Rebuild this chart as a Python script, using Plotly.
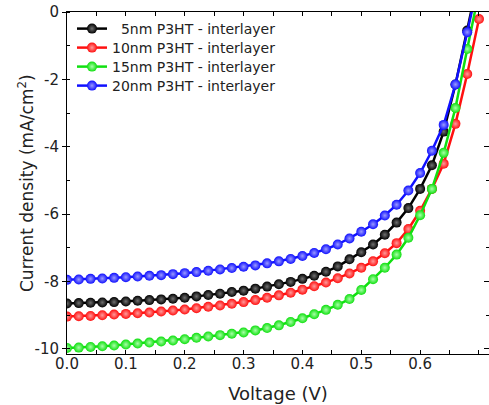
import plotly.graph_objects as go

voltage = [round(0.02 * i, 2) for i in range(36)]

j_5nm = [-8.65, -8.64, -8.63, -8.62, -8.61, -8.59, -8.57, -8.55, -8.53, -8.51,
         -8.48, -8.44, -8.40, -8.36, -8.31, -8.27, -8.21, -8.15, -8.08, -8.01,
         -7.92, -7.83, -7.71, -7.55, -7.34, -7.13, -6.90, -6.61, -6.25, -5.82,
         -5.25, -4.55, -3.55, -2.15, -0.55, 1.10]
j_10nm = [-9.04, -9.03, -9.02, -9.00, -8.98, -8.96, -8.94, -8.92, -8.89, -8.86,
          -8.83, -8.79, -8.75, -8.71, -8.66, -8.61, -8.55, -8.48, -8.41, -8.33,
          -8.24, -8.14, -8.03, -7.90, -7.76, -7.59, -7.40, -7.16, -6.86, -6.44,
          -5.90, -5.25, -4.50, -3.32, -1.84, -0.21]
j_15nm = [-9.97, -9.96, -9.94, -9.92, -9.90, -9.87, -9.84, -9.81, -9.78, -9.75,
          -9.71, -9.67, -9.63, -9.59, -9.55, -9.51, -9.45, -9.38, -9.30, -9.20,
          -9.09, -8.97, -8.84, -8.69, -8.52, -8.25, -7.93, -7.59, -7.20, -6.70,
          -6.03, -5.25, -4.18, -2.85, -1.10, 0.60]
j_20nm = [-7.95, -7.94, -7.92, -7.91, -7.89, -7.87, -7.85, -7.83, -7.81, -7.78,
          -7.75, -7.72, -7.68, -7.64, -7.60, -7.56, -7.52, -7.46, -7.40, -7.33,
          -7.24, -7.15, -7.04, -6.90, -6.72, -6.52, -6.30, -6.04, -5.72, -5.30,
          -4.78, -4.12, -3.35, -2.15, -0.60, 1.00]

series_names = ["\u00a0\u00a05nm P3HT - interlayer", "10nm P3HT - interlayer",
                "15nm P3HT - interlayer", "20nm P3HT - interlayer"]
series_values = [j_5nm, j_10nm, j_15nm, j_20nm]
series_colors = ["#000000", "#ff1010", "#10e010", "#1010ff"]
highlight_colors = ["#707070", "#ff9a9a", "#a8ffa8", "#9a9aff"]

x_ticks = [0.0, 0.1, 0.2, 0.3, 0.4, 0.5, 0.6, 0.7]
y_ticks = [0, -2, -4, -6, -8, -10]

font_family = "DejaVu Sans, Verdana, sans-serif"

x_range = [0, 0.717]
y_range = [-10.15, 0]
fig_w, fig_h = 489, 405
plot_left, plot_top, plot_bottom = 67, 12, 354
plot_w = fig_w - plot_left
plot_h = plot_bottom - plot_top

fig = go.Figure()
legend_ids = ["legend", "legend2", "legend3", "legend4"]
for name, vals, col, hi, lg in zip(series_names, series_values, series_colors,
                                   highlight_colors, legend_ids):
    fig.add_trace(go.Scatter(
        x=voltage, y=vals, name=name, mode="lines+markers", legend=lg,
        line=dict(color=col, width=2.5),
        marker=dict(size=10, color=col, line=dict(width=0),
                    gradient=dict(type="radial", color=hi)),
    ))

# one legend per series so the rows can be stacked tightly
row_offsets = [17, 36, 55, 74]
legend_layout = {}
for lg, off in zip(legend_ids, row_offsets):
    legend_layout[lg] = dict(
        x=5 / plot_w, y=1 - off / plot_h, xanchor="left", yanchor="middle",
        bgcolor="rgba(0,0,0,0)", borderwidth=0, itemwidth=30,
        font=dict(size=14, color="#222222", family=font_family),
    )

tick_style = dict(ticks="inside", ticklen=4, tickcolor="black")

fig.update_layout(
    width=fig_w, height=fig_h,
    margin=dict(l=plot_left, r=0, t=plot_top, b=fig_h - plot_bottom),
    paper_bgcolor="white", plot_bgcolor="white",
    font=dict(family=font_family, size=15, color="#222222"),
    showlegend=True,
    **legend_layout,
    xaxis=dict(range=x_range, tickvals=x_ticks, ticktext=[f"{v:.1f}" for v in x_ticks],
               showgrid=False, zeroline=False, showline=True, linecolor="black",
               linewidth=1, mirror=False, ticklabelstandoff=-4, **tick_style,
               minor=dict(dtick=0.05, **tick_style),
               title=dict(text="Voltage (V)", font=dict(size=18), standoff=15)),
    xaxis2=dict(range=x_range, overlaying="x", side="top", tickvals=x_ticks,
                showticklabels=False, showgrid=False, zeroline=False, showline=True,
                linecolor="black", linewidth=1, **tick_style,
                minor=dict(dtick=0.05, **tick_style)),
    yaxis=dict(range=y_range, tickvals=y_ticks, ticktext=[str(v) for v in y_ticks],
               showgrid=False, zeroline=False, showline=True, linecolor="black",
               linewidth=1, mirror=False, ticks="outside", ticklen=4, tickcolor="black",
               minor=dict(dtick=1, ticks="inside", ticklen=3, tickcolor="black")),
    yaxis2=dict(range=y_range, overlaying="y", side="right", tickvals=y_ticks,
                showticklabels=False, showgrid=False, zeroline=False, showline=False,
                ticks="inside", ticklen=5, tickcolor="black",
                minor=dict(dtick=1, ticks="inside", ticklen=3, tickcolor="black")),
)

# invisible trace binding the top and right-hand tick axes
fig.add_trace(go.Scatter(x=[0], y=[0], xaxis="x2", yaxis="y2", mode="markers",
                         marker=dict(opacity=0), showlegend=False, hoverinfo="skip"))

# vertical axis title, set close to the tick labels
fig.add_annotation(
    text="Current density (mA/cm<sup>2</sup>)", textangle=-90,
    xref="paper", yref="paper", x=(26 - plot_left) / plot_w, y=0.5,
    xanchor="center", yanchor="middle", showarrow=False,
    font=dict(size=17, family=font_family, color="#222222"),
)

fig.write_html("out.html")
